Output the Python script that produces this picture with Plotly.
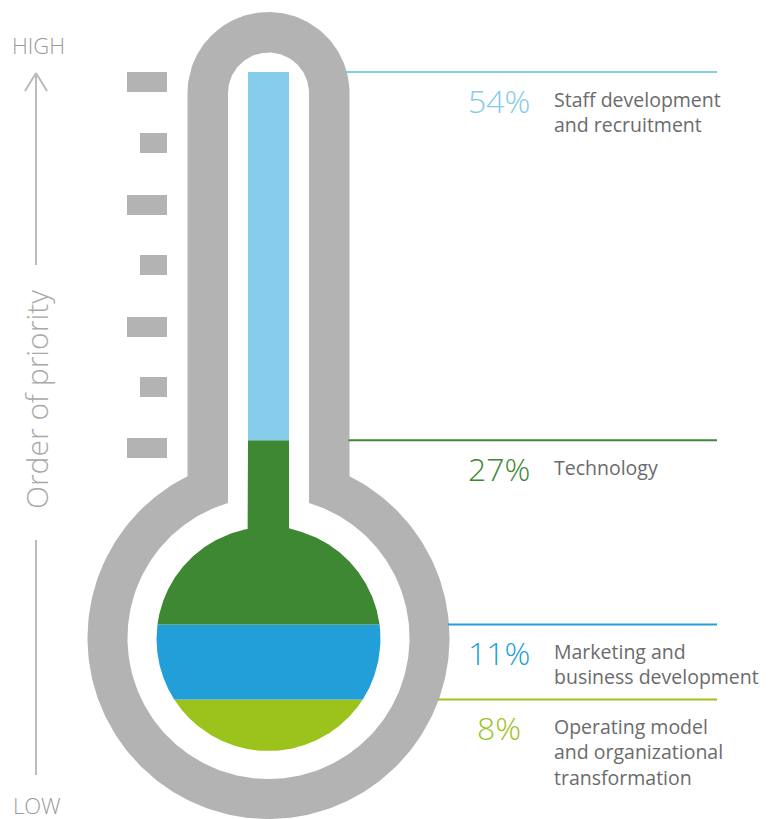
import numpy as np
import plotly.graph_objects as go

# ---------------- data ----------------
labels = ["Operating model<br>and organizational<br>transformation",
          "Marketing and<br>business development",
          "Technology",
          "Staff development<br>and recruitment"]
values = [8, 11, 27, 54]
pct_text = ["8%", "11%", "27%", "54%"]
colors = ["#9CC31B", "#229ED9", "#3E8834", "#85CBEA"]

# ---------------- layout helpers (pixel geometry) ----------------
W, H = 779, 819
PX0, PX100 = 754.0, 72.0          # pixel rows of 0 % and 100 %
S = (PX0 - PX100) / 100.0


def y_of(p):
    return (PX0 - np.asarray(p, dtype=float)) / S


def p_of(y):
    return PX0 - np.asarray(y, dtype=float) * S


CX = 268.5
GRAY = "#B3B3B3"


def bulb_outline(r_tube, cy_top, R, cy_bulb):
    xs, ps = [], []
    th = np.linspace(np.pi, 0, 80)
    xs += list(CX + r_tube * np.cos(th))
    ps += list(cy_top - r_tube * np.sin(th))
    phi_r = np.arccos(r_tube / R)
    phi = np.linspace(phi_r, phi_r - (2 * np.pi - 2 * (np.pi / 2 - phi_r)), 240)
    xs += list(CX + R * np.cos(phi))
    ps += list(cy_bulb - R * np.sin(phi))
    xs.append(xs[0])
    ps.append(ps[0])
    return np.array(xs), np.array(ps)


fig = go.Figure()

# gray body and white inside
for (rt, ct, R, cb, col) in [(81, 93, 181, 638, GRAY), (40.5, 93, 141, 638, "white")]:
    xs, ps = bulb_outline(rt, ct, R, cb)
    fig.add_trace(go.Scatter(x=xs, y=y_of(ps), mode="lines", fill="toself",
                             fillcolor=col, line=dict(width=0, color=col),
                             hoverinfo="skip", showlegend=False))

# mercury segments
COL_HW = 20.5
BR, BCY = 112.0, 639.0


def half_width(p):
    circ = np.sqrt(np.clip(BR ** 2 - (p - BCY) ** 2, 0, None))
    return np.where(p <= BCY, np.maximum(COL_HW, circ), circ)


cum = np.concatenate([[0], np.cumsum(values)])
p_corner = BCY - np.sqrt(BR ** 2 - COL_HW ** 2)
for i, v in enumerate(values):
    lo, hi = cum[i], cum[i + 1]
    p_top, p_bot = float(p_of(hi)), min(float(p_of(lo)), BCY + BR)
    ps = np.linspace(p_top, p_bot, 300)
    if p_top < p_corner < p_bot:
        ps = np.sort(np.append(ps, [p_corner - 1e-6, p_corner + 1e-6]))
    w = half_width(ps)
    xs = np.concatenate([CX - w, (CX + w)[::-1], [CX - w[0]]])
    pp = np.concatenate([ps, ps[::-1], [ps[0]]])
    fig.add_trace(go.Scatter(x=xs, y=y_of(pp), mode="lines", fill="toself",
                             fillcolor=colors[i], line=dict(width=0, color=colors[i]),
                             hoverinfo="skip", showlegend=False, name=labels[i]))


def outer_edge(p):
    if p <= 476:
        if p < 93:
            return CX + np.sqrt(max(81 ** 2 - (93 - p) ** 2, 0))
        return CX + 81
    return CX + np.sqrt(max(181 ** 2 - (p - 638) ** 2, 0))


# leader lines, percentages and labels
for i, v in enumerate(values):
    top = cum[i + 1]
    p = float(p_of(top))
    x0 = outer_edge(p) - 1
    fig.add_trace(go.Scatter(x=[x0, 717], y=[top, top], mode="lines",
                             line=dict(color=colors[i], width=2),
                             hoverinfo="skip", showlegend=False))
    fig.add_annotation(x=499, y=top, xref="x", yref="y", text=pct_text[i],
                       showarrow=False, xanchor="center", yanchor="middle",
                       yshift=-28 if i > 0 else -28,
                       font=dict(family="Open Sans", size=32, color=colors[i], weight=300))
    fig.add_annotation(x=552, y=top, xref="x", yref="y", text=labels[i],
                       showarrow=False, xanchor="left", yanchor="top", align="left",
                       yshift=-12,
                       font=dict(family="Open Sans", size=19.5, color="#6B6B6B"))

# scale ticks on the left
tick_tops = [72, 133, 195, 255, 317, 377, 438]
for k, t in enumerate(tick_tops):
    x0 = 127 if k % 2 == 0 else 140
    fig.add_shape(type="rect", xref="x", yref="y", x0=x0, x1=167,
                  y0=float(y_of(t)), y1=float(y_of(t + 20)),
                  fillcolor=GRAY, line=dict(width=0))

# priority arrow
AC = "#BBBBBB"
for (xa, pa, xb, pb) in [(36, 73, 36, 265), (25, 91, 36, 73), (47, 91, 36, 73), (36, 540, 36, 775)]:
    fig.add_shape(type="line", xref="x", yref="y", x0=xa, x1=xb,
                  y0=float(y_of(pa)), y1=float(y_of(pb)),
                  line=dict(color=AC, width=2))

fig.add_annotation(x=38, y=float(y_of(45)), xref="x", yref="y", text="HIGH",
                   showarrow=False, font=dict(family="Open Sans", size=22, color="#9A9A9A", weight=300))
fig.add_annotation(x=37, y=float(y_of(805)), xref="x", yref="y", text="LOW",
                   showarrow=False, font=dict(family="Open Sans", size=22, color="#9A9A9A", weight=300))
fig.add_annotation(x=36, y=float(y_of(400)), xref="x", yref="y", text="Order of priority",
                   showarrow=False, textangle=-90,
                   font=dict(family="Open Sans", size=30, color="#A8A8A8", weight=300))

fig.update_layout(
    width=W, height=H, margin=dict(l=0, r=0, t=0, b=0),
    paper_bgcolor="white", plot_bgcolor="white",
    xaxis=dict(range=[0, W], visible=False, fixedrange=True),
    yaxis=dict(range=[float(y_of(H)), float(y_of(0))], visible=False, fixedrange=True),
    showlegend=False,
)

fig.write_html("out.html", config={"displayModeBar": False},
               post_script="document.body.style.margin='0';")
